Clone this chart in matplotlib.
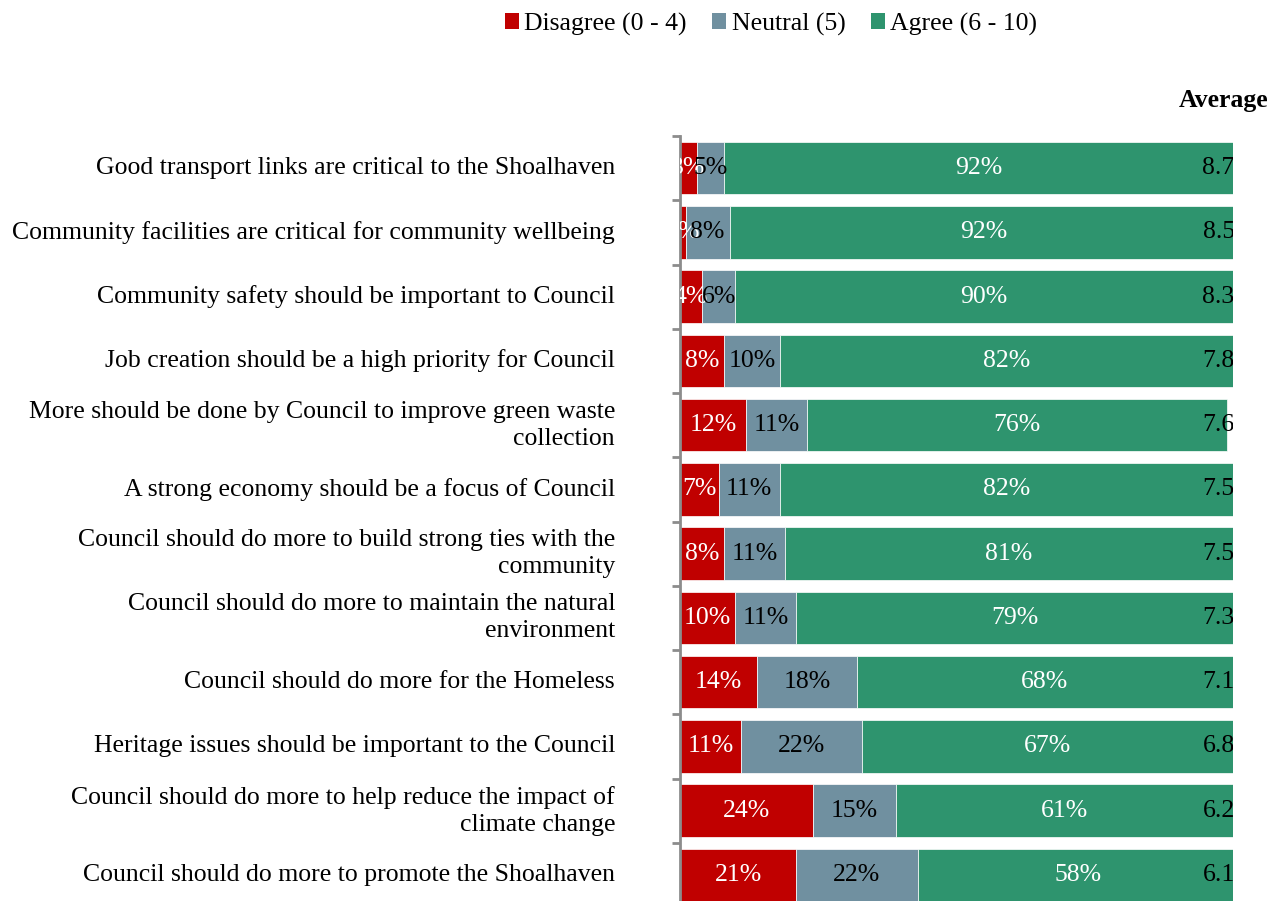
import numpy as np
import matplotlib
matplotlib.use('Agg')
from matplotlib import pyplot as plt
from matplotlib.patches import Patch

plt.rcParams['font.family'] = ['Liberation Serif', 'DejaVu Serif']

statements = [
    "Good transport links are critical to the Shoalhaven",
    "Community facilities are critical for community wellbeing",
    "Community safety should be important to Council",
    "Job creation should be a high priority for Council",
    "More should be done by Council to improve green waste\ncollection",
    "A strong economy should be a focus of Council",
    "Council should do more to build strong ties with the\ncommunity",
    "Council should do more to maintain the natural\nenvironment",
    "Council should do more for the Homeless",
    "Heritage issues should be important to the Council",
    "Council should do more to help reduce the impact of\nclimate change",
    "Council should do more to promote the Shoalhaven",
]
disagree = [3, 1, 4, 8, 12, 7, 8, 10, 14, 11, 24, 21]
neutral = [5, 8, 6, 10, 11, 11, 11, 11, 18, 22, 15, 22]
agree = [92, 92, 90, 82, 76, 82, 81, 79, 68, 67, 61, 58]
average = [8.7, 8.5, 8.3, 7.8, 7.6, 7.5, 7.5, 7.3, 7.1, 6.8, 6.2, 6.1]

series_names = ["Disagree (0 - 4)", "Neutral (5)", "Agree (6 - 10)"]
colors = ['#C00000', '#7090A0', '#2E946E']
text_colors = ['white', 'black', 'white']

fs = 18.5
W, H = 1277, 901
fig = plt.figure(figsize=(W / 100, H / 100), dpi=100)
# plot area: x 680..1233 px, rows 136..907 px (last row runs off the bottom)
ax = fig.add_axes([680 / W, (H - 907) / H, (1233 - 680) / W, (907 - 136) / H])

n = len(statements)
y = np.arange(n)
left = np.zeros(n)
for vals, col, tcol in zip([disagree, neutral, agree], colors, text_colors):
    vals = np.array(vals, dtype=float)
    ax.barh(y, vals, left=left, height=0.82, color=col, edgecolor='white', linewidth=0.5)
    for yi, l, v in zip(y, left, vals):
        ax.text(l + v / 2, yi, f"{int(v)}%", ha='center', va='center',
                color=tcol, fontsize=fs, clip_on=True)
    left += vals

for yi, a in zip(y, average):
    ax.text(100.3, yi, f"{a:.1f}", ha='right', va='center', color='black',
            fontsize=fs, clip_on=True)

ax.set_xlim(0, 100)
ax.set_ylim(n - 0.5, -0.5)
ax.set_xticks([])
ax.set_yticks(np.arange(n + 1) - 0.5)
ax.set_yticklabels([])
ax.tick_params(axis='y', length=6, width=2, color='#8C8C8C', direction='out')
for side in ['top', 'right', 'bottom']:
    ax.spines[side].set_visible(False)
ax.spines['left'].set_color('#8C8C8C')
ax.spines['left'].set_linewidth(2)

# statement labels, right aligned left of the axis
for yi, s in zip(y, statements):
    ax.text(-65 / 553, yi, s, transform=ax.get_yaxis_transform(), ha='right',
            va='center', fontsize=fs, linespacing=1.3, clip_on=False)

fig.text(1268 / W, 1 - 101 / H, "Average", ha='right', va='center',
         fontsize=fs, fontweight='bold')

handles = [Patch(facecolor=c, edgecolor='none') for c in colors]
fig.legend(handles, series_names, loc='center', bbox_to_anchor=(771 / W, 1 - 24 / H),
           ncol=3, frameon=False, fontsize=fs, handlelength=0.55, handleheight=0.55,
           handletextpad=0.2, columnspacing=1.0)

fig.savefig('out.png', dpi=100)
